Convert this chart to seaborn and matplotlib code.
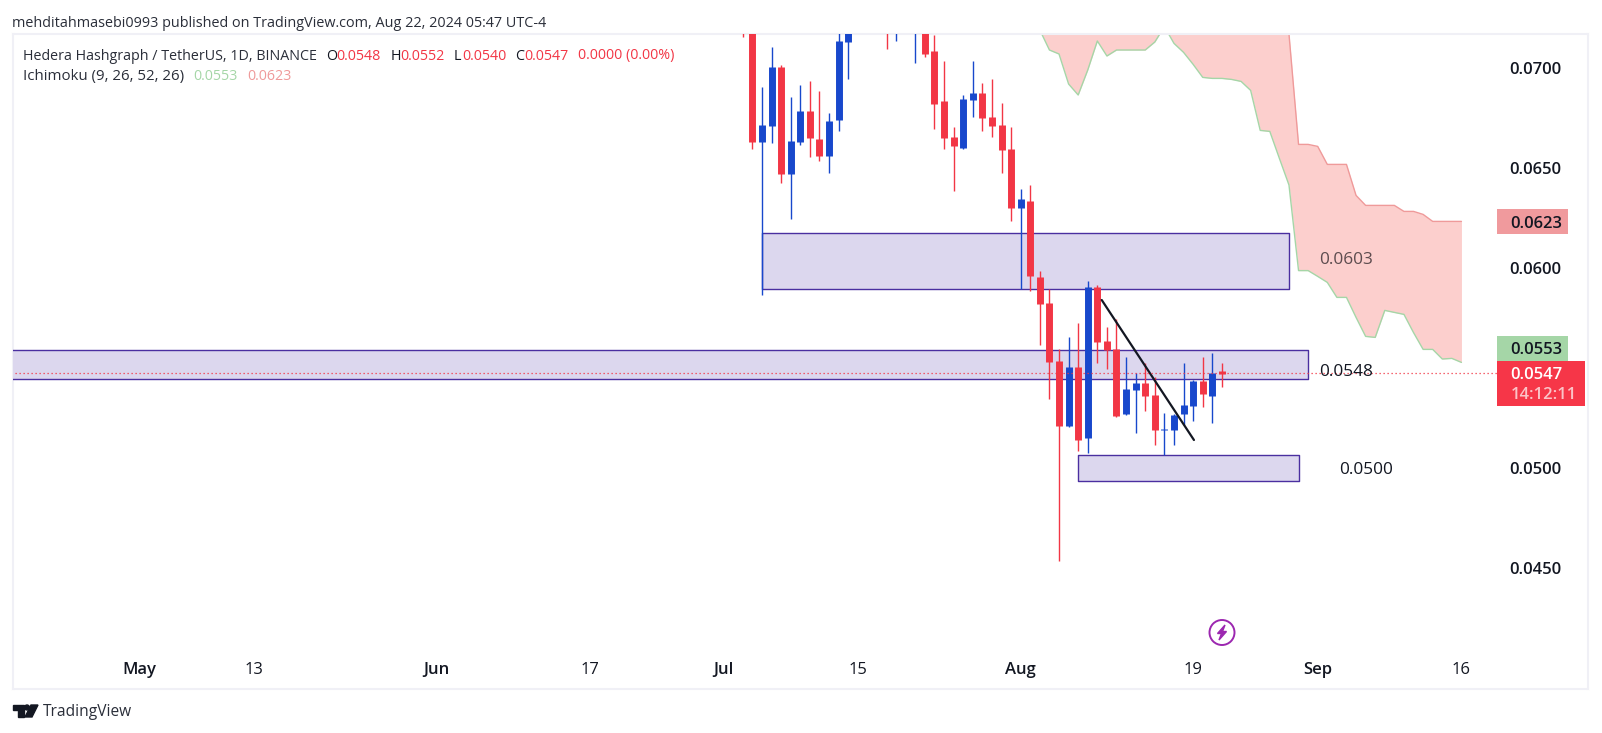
import pandas as pd
import matplotlib
matplotlib.use("Agg")
import matplotlib.pyplot as plt
import matplotlib.patches as mpatches
from matplotlib.transforms import blended_transform_factory
import seaborn as sns

# candles Jul 3 - Aug 22 2024 (the ones above the top edge are guesses)
opens = [0.0735, 0.0725, 0.06628, 0.06708, 0.07003, 0.06468, 0.06628, 0.06783, 0.06643, 0.06558, 0.06738, 0.07128,
         0.0722, 0.0745, 0.0755, 0.0775, 0.0745, 0.0760, 0.0735, 0.0750, 0.07083, 0.06833, 0.06653, 0.06598, 0.06838,
         0.06873, 0.06753, 0.06713, 0.06593, 0.06298, 0.06333, 0.05953, 0.05823, 0.05533, 0.05208, 0.05503, 0.05148,
         0.05903, 0.05633, 0.05593, 0.05268, 0.05388, 0.05423, 0.05363, 0.05188, 0.05188, 0.05268, 0.05308, 0.05433,
         0.05358, 0.05483]
highs = [0.0740, 0.0730, 0.06903, 0.07103, 0.07013, 0.06853, 0.06913, 0.06933, 0.06883, 0.06773, 0.0725, 0.0735,
         0.0750, 0.0760, 0.0780, 0.0780, 0.0770, 0.0765, 0.0760, 0.0755, 0.07163, 0.07033, 0.06703, 0.06863, 0.07033,
         0.06923, 0.06943, 0.06823, 0.06703, 0.06393, 0.06413, 0.05983, 0.05893, 0.05593, 0.05653, 0.05723, 0.05933,
         0.05913, 0.05703, 0.05743, 0.05553, 0.05473, 0.05523, 0.05453, 0.05273, 0.05270, 0.05523, 0.05438, 0.05553,
         0.05573, 0.05523]
lows = [0.07155, 0.06593, 0.05863, 0.06623, 0.06423, 0.06243, 0.06613, 0.06553, 0.06533, 0.06473, 0.06683, 0.06943,
        0.0720, 0.0735, 0.0745, 0.07093, 0.07133, 0.0725, 0.07023, 0.07053, 0.06693, 0.06593, 0.06383, 0.06593, 0.06753,
        0.06683, 0.06653, 0.06473, 0.06233, 0.05891, 0.05883, 0.05613, 0.05343, 0.04533, 0.05203, 0.05083, 0.05073,
        0.05523, 0.05493, 0.05253, 0.05263, 0.05173, 0.05283, 0.05113, 0.05061, 0.05113, 0.05213, 0.05233, 0.05303,
        0.05223, 0.05403]
closes = [0.0725, 0.06628, 0.06713, 0.07003, 0.06468, 0.06633, 0.06783, 0.06648, 0.06558, 0.06733, 0.07133, 0.0722,
          0.0745, 0.0755, 0.0775, 0.0760, 0.0760, 0.0750, 0.0755, 0.07068, 0.06818, 0.06648, 0.06608, 0.06843, 0.06873,
          0.06748, 0.06708, 0.06588, 0.06298, 0.06343, 0.05958, 0.05818, 0.05528, 0.05208, 0.05503, 0.05138, 0.05903,
          0.05628, 0.05588, 0.05258, 0.05393, 0.05423, 0.05358, 0.05188, 0.05193, 0.05263, 0.05313, 0.05433, 0.05368,
          0.05473, 0.05468]

# ichimoku cloud Aug 3 - Sep 16
span_a = [0.07188, 0.07088, 0.07068, 0.06918, 0.06863, 0.06988, 0.07133, 0.07058, 0.07088, 0.07088, 0.07088, 0.07088,
          0.07128, 0.07205, 0.07121, 0.07076, 0.07016, 0.06951, 0.06946, 0.06946, 0.06941, 0.06931, 0.06886, 0.06686,
          0.06681, 0.06546, 0.06413, 0.05985, 0.05985, 0.05956, 0.05926, 0.05851, 0.05851, 0.05751, 0.05656, 0.05651,
          0.05786, 0.05776, 0.05766, 0.05675, 0.05591, 0.05591, 0.05543, 0.05546, 0.05526]
span_b = [0.0771, 0.0771, 0.0771, 0.0771, 0.0771, 0.0771, 0.0771, 0.0771, 0.0771, 0.0771, 0.0771, 0.0771, 0.0771,
          0.0771, 0.0771, 0.0771, 0.0771, 0.0771, 0.0771, 0.0771, 0.0771, 0.0771, 0.0771, 0.0771, 0.0771, 0.0771,
          0.07168, 0.06616, 0.06616, 0.06606, 0.06516, 0.06516, 0.06516, 0.06361, 0.06311, 0.06311, 0.06311, 0.06311,
          0.06281, 0.06281, 0.06266, 0.06231, 0.06231, 0.06231, 0.06231]

# purple zones: start, end, top, bottom
zone_starts = ["2024-07-05", "2024-03-01", "2024-08-07"]
zone_ends = ["2024-08-29", "2024-08-31", "2024-08-30"]
zone_tops = [0.06171, 0.05586, 0.05061]
zone_bottoms = [0.05891, 0.05441, 0.04931]

trend_dates = ["2024-08-09 11:00", "2024-08-19 02:00"]
trend_prices = [0.05838, 0.05138]

date_ticks = ["2024-05-01", "2024-05-13", "2024-06-01", "2024-06-17", "2024-07-01", "2024-07-15", "2024-08-01",
              "2024-08-19", "2024-09-01", "2024-09-16"]
date_labels = ["May", "13", "Jun", "17", "Jul", "15", "Aug", "19", "Sep", "16"]
price_ticks = [0.0450, 0.0500, 0.0600, 0.0650, 0.0700]

RED = "#f23645"
BLUE = "#1848cc"
TEXT = "#131722"

sns.set_theme(style="white")
plt.rcParams["font.family"] = ["Open Sans", "DejaVu Sans"]

W, H = 1602, 733
fig = plt.figure(figsize=(W / 100, H / 100), dpi=100, facecolor="white")
ax = fig.add_axes([13 / W, 1 - 689 / H, (1588 - 13) / W, (689 - 34) / H])

days = pd.date_range("2024-07-03", "2024-08-22")
candles = pd.DataFrame({"date": days, "open": opens, "close": closes, "high": highs, "low": lows})
candles["side"] = ["up" if c >= o else "down" for o, c in zip(candles["open"], candles["close"])]
palette = {"up": BLUE, "down": RED}

# wicks and bodies are both short vertical lines, one per day
wicks = candles.melt(id_vars=["date", "side"], value_vars=["high", "low"], value_name="price")
bodies = candles.melt(id_vars=["date", "side"], value_vars=["open", "close"], value_name="price")
sns.lineplot(data=wicks, x="date", y="price", hue="side", units="date", estimator=None, palette=palette,
             linewidth=1.0, legend=False, ax=ax, zorder=4, solid_capstyle="butt")
sns.lineplot(data=bodies, x="date", y="price", hue="side", units="date", estimator=None, palette=palette,
             linewidth=5.0, legend=False, ax=ax, zorder=5, solid_capstyle="butt")

# cloud
cloud = pd.DataFrame({"date": pd.date_range("2024-08-03", "2024-09-16"), "a": span_a, "b": span_b})
ax.fill_between(cloud["date"], cloud["a"], cloud["b"], color="#fccfcd", linewidth=0, zorder=1)
sns.lineplot(data=cloud, x="date", y="a", color="#a5d6a7", linewidth=1.0, ax=ax, zorder=2)
sns.lineplot(data=cloud, x="date", y="b", color="#ef9a9a", linewidth=1.0, ax=ax, zorder=2)

# zones
for start, end, top, bottom in zip(zone_starts, zone_ends, zone_tops, zone_bottoms):
    ax.fill_between(pd.to_datetime([start, end]), bottom, top, facecolor="#dcd7ee", edgecolor="#4a2fa0",
                    linewidth=1.0, zorder=3)

sns.lineplot(x=pd.to_datetime(trend_dates), y=trend_prices, color=TEXT, linewidth=1.6, ax=ax, zorder=6)

# last price line
ax.hlines(0.05471, pd.Timestamp("2024-03-01"), pd.Timestamp("2024-09-21"), color=RED, linewidth=0.9,
          linestyle=(0, (1, 2.2)), zorder=7)

ax.text(pd.Timestamp("2024-09-04"), 0.0605, "0.0603", ha="center", va="center_baseline", fontsize=12.4,
        color="#5d4c4f", zorder=8)
ax.text(pd.Timestamp("2024-09-04"), 0.05487, "0.0548", ha="center", va="center_baseline", fontsize=12.4, color=TEXT,
        zorder=8)
ax.text(pd.Timestamp("2024-09-06"), 0.0500, "0.0500", ha="center", va="center_baseline", fontsize=12.4, color=TEXT,
        zorder=8)

ax.set_xlim(pd.Timestamp("2024-04-17 20:00"), pd.Timestamp("2024-09-29 05:00"))
ax.set_ylim(0.03893, 0.07168)
ax.set_xlabel("")
ax.set_ylabel("")

ax.set_xticks(pd.to_datetime(date_ticks))
ax.set_xticklabels(date_labels, fontsize=12, color=TEXT)
for lab in ax.get_xticklabels():
    if lab.get_text().isalpha():
        lab.set_fontweight("semibold")
ax.tick_params(axis="x", length=0, pad=-19.6)

ax.yaxis.tick_right()
ax.set_yticks(price_ticks)
ax.set_yticklabels([f"{p:.4f}" for p in price_ticks], fontsize=12, color=TEXT, fontweight="semibold")
ax.tick_params(axis="y", length=0, pad=-57)
for lab in ax.get_yticklabels():
    lab.set_ha("left")

for s in ax.spines.values():
    s.set_color("#f0f0f6")
    s.set_linewidth(1.5)

# price tags on the right, y in price, x in axes fraction
tr = blended_transform_factory(ax.transAxes, ax.transData)
tag_x = (1497 - 13) / (1588 - 13)
tag_w = 71 / (1588 - 13)
for y, col, lab in [(0.0623, "#f09a9d", "0.0623"), (0.05596, "#a5d6a7", "0.0553")]:
    ax.add_patch(mpatches.Rectangle((tag_x, y - 0.000625), tag_w, 0.00125, transform=tr, facecolor=col,
                                    edgecolor="none", zorder=9))
    ax.text((1562 - 13) / (1588 - 13), y, lab, transform=tr, ha="right", va="center_baseline", fontsize=12, color=TEXT,
            fontweight="semibold", zorder=10)
ax.add_patch(mpatches.Rectangle((tag_x, 0.05421 - 0.001125), 88 / (1588 - 13), 0.00225, transform=tr,
                                facecolor="#f63648", edgecolor="none", zorder=9))
ax.text((1562 - 13) / (1588 - 13), 0.05471, "0.0547", transform=tr, ha="right", va="center_baseline", fontsize=12,
        color="white", fontweight="semibold", zorder=10)
ax.text((1577 - 13) / (1588 - 13), 0.05371, "14:12:11", transform=tr, ha="right", va="center_baseline", fontsize=12,
        color="#fbc3c7", fontweight="semibold", zorder=10)


def put(x, y, s, color=TEXT, size=10.3):
    # text placed by pixel position in the figure
    fig.text(x / W, 1 - y / H, s, ha="left", va="center", fontsize=size, color=color)


put(12, 23.5, "mehditahmasebi0993 published on TradingView.com, Aug 22, 2024 05:47 UTC-4", "#2a2e39", 10.4)
put(23, 56, "Hedera Hashgraph / TetherUS, 1D, BINANCE", "#2a2e39")
for x, s, c in [(326, "O", TEXT), (336.5, "0.0548", RED), (391, "H", TEXT), (400, "0.0552", RED), (454, "L", TEXT),
                (462, "0.0540", RED), (515, "C", TEXT), (524, "0.0547", RED), (578.5, "0.0000 (0.00%)", RED)]:
    put(x, 56, s, c)
put(23, 76.5, "Ichimoku (9, 26, 52, 26)", "#2a2e39", 10.8)
put(193, 76.5, "0.0553", "#a5d6a7")
put(247, 76.5, "0.0623", "#ef9a9a")

# overlay in pixels for the logo and the lightning badge
over = fig.add_axes([0, 0, 1, 1], facecolor="none")
over.set_axis_off()
over.set_xlim(0, W)
over.set_ylim(H, 0)
over.add_patch(mpatches.Polygon([(13, 705), (24, 705), (24, 717), (18, 717), (18, 710), (13, 710)], color=TEXT))
over.add_patch(mpatches.Circle((27, 707.5), 2.5, color=TEXT))
over.add_patch(mpatches.Polygon([(31, 705), (38, 705), (32, 717), (25, 717)], color=TEXT))
put(43, 712.5, "TradingView", "#2a2e39", 11.2)

over.add_patch(mpatches.Circle((1222, 632.5), 12.5, facecolor="white", edgecolor="#9c27b0", linewidth=1.4))
over.add_patch(mpatches.Polygon([(1225, 625), (1217.5, 633.5), (1221.5, 633.5), (1219, 640), (1226.5, 631.5),
                                 (1222.5, 631.5)], color="#9c27b0"))

fig.savefig("out.png", dpi=100)
